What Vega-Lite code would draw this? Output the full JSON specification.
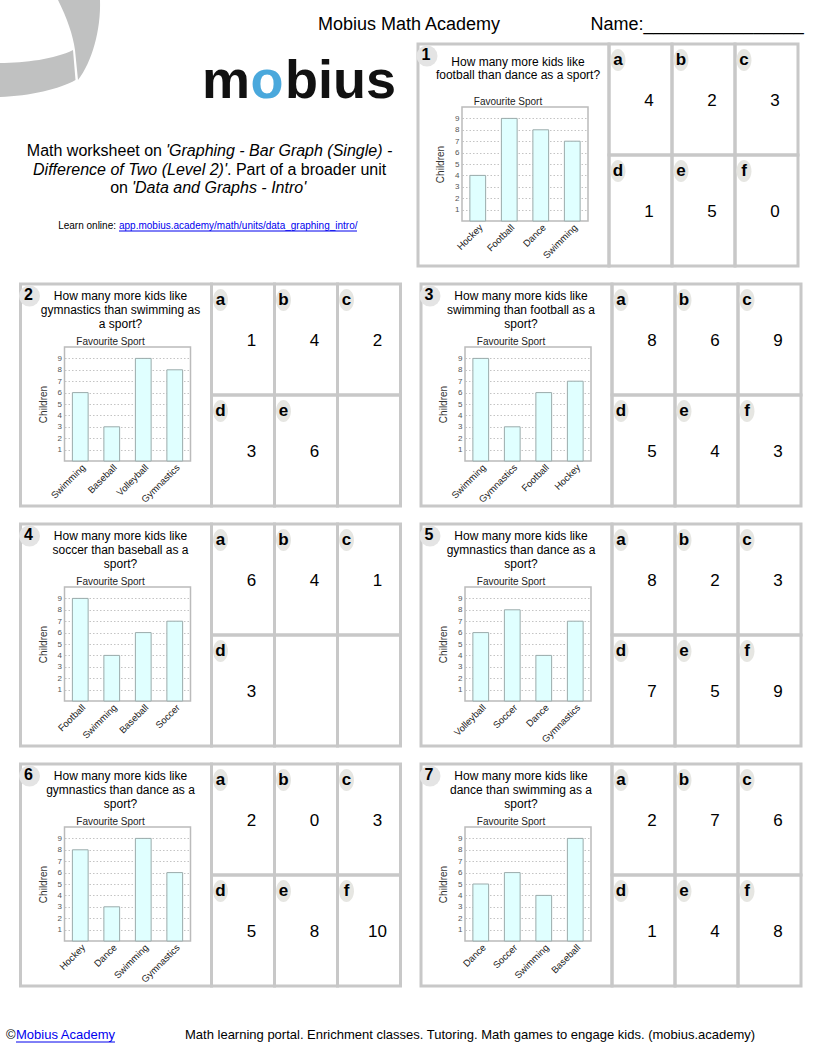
{
"$schema":"https://vega.github.io/schema/vega-lite/v6.json",
"padding":0,
"bounds":"full",
"spacing":14,
"config":{"font":"Liberation Sans","view":{"stroke":"#c8c8c8","strokeWidth":3},"axis":{"labelFont":"Liberation Sans","titleFont":"Liberation Sans"},"header":{"labels":false,"title":null}},
"datasets":{
"questions":[
{"p":1,"q":"How many more kids like\nfootball than dance as a sport?"},
{"p":2,"q":"How many more kids like\ngymnastics than swimming as\na sport?"},
{"p":3,"q":"How many more kids like\nswimming than football as a\nsport?"},
{"p":4,"q":"How many more kids like\nsoccer than baseball as a\nsport?"},
{"p":5,"q":"How many more kids like\ngymnastics than dance as a\nsport?"},
{"p":6,"q":"How many more kids like\ngymnastics than dance as a\nsport?"},
{"p":7,"q":"How many more kids like\ndance than swimming as a\nsport?"}
],
"bars":[
{"p":1,"sport":"Hockey","children":4},{"p":1,"sport":"Football","children":9},{"p":1,"sport":"Dance","children":8},{"p":1,"sport":"Swimming","children":7},
{"p":2,"sport":"Swimming","children":6},{"p":2,"sport":"Baseball","children":3},{"p":2,"sport":"Volleyball","children":9},{"p":2,"sport":"Gymnastics","children":8},
{"p":3,"sport":"Swimming","children":9},{"p":3,"sport":"Gymnastics","children":3},{"p":3,"sport":"Football","children":6},{"p":3,"sport":"Hockey","children":7},
{"p":4,"sport":"Football","children":9},{"p":4,"sport":"Swimming","children":4},{"p":4,"sport":"Baseball","children":6},{"p":4,"sport":"Soccer","children":7},
{"p":5,"sport":"Volleyball","children":6},{"p":5,"sport":"Soccer","children":8},{"p":5,"sport":"Dance","children":4},{"p":5,"sport":"Gymnastics","children":7},
{"p":6,"sport":"Hockey","children":8},{"p":6,"sport":"Dance","children":3},{"p":6,"sport":"Swimming","children":9},{"p":6,"sport":"Gymnastics","children":6},
{"p":7,"sport":"Dance","children":5},{"p":7,"sport":"Soccer","children":6},{"p":7,"sport":"Swimming","children":4},{"p":7,"sport":"Baseball","children":9}
],
"answers":[
{"p":1,"slot":"a","letter":"a","ans":"4"},{"p":1,"slot":"b","letter":"b","ans":"2"},{"p":1,"slot":"c","letter":"c","ans":"3"},{"p":1,"slot":"d","letter":"d","ans":"1"},{"p":1,"slot":"e","letter":"e","ans":"5"},{"p":1,"slot":"f","letter":"f","ans":"0"},
{"p":2,"slot":"a","letter":"a","ans":"1"},{"p":2,"slot":"b","letter":"b","ans":"4"},{"p":2,"slot":"c","letter":"c","ans":"2"},{"p":2,"slot":"d","letter":"d","ans":"3"},{"p":2,"slot":"e","letter":"e","ans":"6"},{"p":2,"slot":"f","letter":"","ans":""},
{"p":3,"slot":"a","letter":"a","ans":"8"},{"p":3,"slot":"b","letter":"b","ans":"6"},{"p":3,"slot":"c","letter":"c","ans":"9"},{"p":3,"slot":"d","letter":"d","ans":"5"},{"p":3,"slot":"e","letter":"e","ans":"4"},{"p":3,"slot":"f","letter":"f","ans":"3"},
{"p":4,"slot":"a","letter":"a","ans":"6"},{"p":4,"slot":"b","letter":"b","ans":"4"},{"p":4,"slot":"c","letter":"c","ans":"1"},{"p":4,"slot":"d","letter":"d","ans":"3"},{"p":4,"slot":"e","letter":"","ans":""},{"p":4,"slot":"f","letter":"","ans":""},
{"p":5,"slot":"a","letter":"a","ans":"8"},{"p":5,"slot":"b","letter":"b","ans":"2"},{"p":5,"slot":"c","letter":"c","ans":"3"},{"p":5,"slot":"d","letter":"d","ans":"7"},{"p":5,"slot":"e","letter":"e","ans":"5"},{"p":5,"slot":"f","letter":"f","ans":"9"},
{"p":6,"slot":"a","letter":"a","ans":"2"},{"p":6,"slot":"b","letter":"b","ans":"0"},{"p":6,"slot":"c","letter":"c","ans":"3"},{"p":6,"slot":"d","letter":"d","ans":"5"},{"p":6,"slot":"e","letter":"e","ans":"8"},{"p":6,"slot":"f","letter":"f","ans":"10"},
{"p":7,"slot":"a","letter":"a","ans":"2"},{"p":7,"slot":"b","letter":"b","ans":"7"},{"p":7,"slot":"c","letter":"c","ans":"6"},{"p":7,"slot":"d","letter":"d","ans":"1"},{"p":7,"slot":"e","letter":"e","ans":"4"},{"p":7,"slot":"f","letter":"f","ans":"8"}
]
},
"vconcat":[
{"hconcat":[
 {"width":400.5,"height":266,"view":{"stroke":null},"data":{"values":[{}]},
  "layer":[
   {"mark":{"type":"point","shape":"M0.16,-1 L1,-1 C1.02,-0.4 0.84,0.24 0.56,0.6 L0.5,0 C0.46,-0.3 0.34,-0.64 0.16,-1 Z M-1,0.26 C-0.5,0.26 0.1,0.18 0.46,0 L0.51,0.6 C0.2,0.78 -0.4,0.92 -1,0.94 Z","filled":true,"color":"#c0c1c1","opacity":1,"size":10000,"strokeWidth":0},
    "encoding":{"x":{"datum":50,"type":"quantitative","scale":{"domain":[0,399],"range":[0,399],"nice":false,"zero":false},"axis":null},"y":{"datum":50,"type":"quantitative","scale":{"domain":[0,266],"range":[0,266],"nice":false,"zero":false},"axis":null}}},
   {"mark":{"type":"text","text":"Mobius Math Academy","fontSize":18,"align":"center","baseline":"middle","color":"#000000"},
    "encoding":{"x":{"datum":409,"type":"quantitative","scale":{"domain":[0,399],"range":[0,399],"nice":false,"zero":false},"axis":null},"y":{"datum":25,"type":"quantitative","scale":{"domain":[0,266],"range":[0,266],"nice":false,"zero":false},"axis":null}}},
   {"mark":{"type":"text","text":"m","fontSize":54,"fontWeight":"bold","align":"right","baseline":"alphabetic","color":"#111111"},
    "encoding":{"x":{"datum":250,"type":"quantitative","scale":{"domain":[0,399],"range":[0,399],"nice":false,"zero":false},"axis":null},"y":{"datum":98,"type":"quantitative","scale":{"domain":[0,266],"range":[0,266],"nice":false,"zero":false},"axis":null}}},
   {"mark":{"type":"text","text":"o","fontSize":54,"fontWeight":"bold","align":"center","baseline":"alphabetic","color":"#4aa8dc"},
    "encoding":{"x":{"datum":267,"type":"quantitative","scale":{"domain":[0,399],"range":[0,399],"nice":false,"zero":false},"axis":null},"y":{"datum":98,"type":"quantitative","scale":{"domain":[0,266],"range":[0,266],"nice":false,"zero":false},"axis":null}}},
   {"mark":{"type":"text","text":"bius","fontSize":54,"fontWeight":"bold","align":"left","baseline":"alphabetic","color":"#111111"},
    "encoding":{"x":{"datum":285,"type":"quantitative","scale":{"domain":[0,399],"range":[0,399],"nice":false,"zero":false},"axis":null},"y":{"datum":98,"type":"quantitative","scale":{"domain":[0,266],"range":[0,266],"nice":false,"zero":false},"axis":null}}},
   {"mark":{"type":"text","text":"Math worksheet on","fontSize":16,"align":"right","baseline":"middle","color":"#000000"},
    "encoding":{"x":{"datum":162,"type":"quantitative","scale":{"domain":[0,399],"range":[0,399],"nice":false,"zero":false},"axis":null},"y":{"datum":151,"type":"quantitative","scale":{"domain":[0,266],"range":[0,266],"nice":false,"zero":false},"axis":null}}},
   {"mark":{"type":"text","text":"'Graphing - Bar Graph (Single) -","fontSize":16,"fontStyle":"italic","align":"left","baseline":"middle","color":"#000000"},
    "encoding":{"x":{"datum":166,"type":"quantitative","scale":{"domain":[0,399],"range":[0,399],"nice":false,"zero":false},"axis":null},"y":{"datum":151,"type":"quantitative","scale":{"domain":[0,266],"range":[0,266],"nice":false,"zero":false},"axis":null}}},
   {"mark":{"type":"text","text":"Difference of Two (Level 2)'","fontSize":16,"fontStyle":"italic","align":"right","baseline":"middle","color":"#000000"},
    "encoding":{"x":{"datum":227,"type":"quantitative","scale":{"domain":[0,399],"range":[0,399],"nice":false,"zero":false},"axis":null},"y":{"datum":170,"type":"quantitative","scale":{"domain":[0,266],"range":[0,266],"nice":false,"zero":false},"axis":null}}},
   {"mark":{"type":"text","text":". Part of a broader unit","fontSize":16,"align":"left","baseline":"middle","color":"#000000"},
    "encoding":{"x":{"datum":227,"type":"quantitative","scale":{"domain":[0,399],"range":[0,399],"nice":false,"zero":false},"axis":null},"y":{"datum":170,"type":"quantitative","scale":{"domain":[0,266],"range":[0,266],"nice":false,"zero":false},"axis":null}}},
   {"mark":{"type":"text","text":"on","fontSize":16,"align":"right","baseline":"middle","color":"#000000"},
    "encoding":{"x":{"datum":128,"type":"quantitative","scale":{"domain":[0,399],"range":[0,399],"nice":false,"zero":false},"axis":null},"y":{"datum":188,"type":"quantitative","scale":{"domain":[0,266],"range":[0,266],"nice":false,"zero":false},"axis":null}}},
   {"mark":{"type":"text","text":"'Data and Graphs - Intro'","fontSize":16,"fontStyle":"italic","align":"left","baseline":"middle","color":"#000000"},
    "encoding":{"x":{"datum":132,"type":"quantitative","scale":{"domain":[0,399],"range":[0,399],"nice":false,"zero":false},"axis":null},"y":{"datum":188,"type":"quantitative","scale":{"domain":[0,266],"range":[0,266],"nice":false,"zero":false},"axis":null}}},
   {"mark":{"type":"text","text":"Learn online:","fontSize":10,"align":"right","baseline":"middle","color":"#000000"},
    "encoding":{"x":{"datum":116,"type":"quantitative","scale":{"domain":[0,399],"range":[0,399],"nice":false,"zero":false},"axis":null},"y":{"datum":226,"type":"quantitative","scale":{"domain":[0,266],"range":[0,266],"nice":false,"zero":false},"axis":null}}},
   {"mark":{"type":"text","text":"app.mobius.academy/math/units/data_graphing_intro/","fontSize":10,"align":"left","baseline":"middle","color":"#0000ee"},
    "encoding":{"x":{"datum":119,"type":"quantitative","scale":{"domain":[0,399],"range":[0,399],"nice":false,"zero":false},"axis":null},"y":{"datum":226,"type":"quantitative","scale":{"domain":[0,266],"range":[0,266],"nice":false,"zero":false},"axis":null}}},
   {"mark":{"type":"rule","color":"#0000ee","strokeWidth":1},
    "encoding":{"x":{"datum":119,"type":"quantitative","scale":{"domain":[0,399],"range":[0,399],"nice":false,"zero":false},"axis":null},"x2":{"datum":357},"y":{"datum":231,"type":"quantitative","scale":{"domain":[0,266],"range":[0,266],"nice":false,"zero":false},"axis":null}}}
  ]},
 {"vconcat":[
  {"width":380,"height":44,"view":{"stroke":null},"data":{"values":[{}]},
   "mark":{"type":"text","text":"Name:________________","fontSize":18,"align":"left","baseline":"middle","color":"#000000"},
   "encoding":{"x":{"datum":172.5,"type":"quantitative","scale":{"domain":[0,380],"range":[0,380],"nice":false,"zero":false},"axis":null},"y":{"datum":25,"type":"quantitative","scale":{"domain":[0,44],"range":[0,44],"nice":false,"zero":false},"axis":null}}},
  {"hconcat":[
   {"width":191,"height":222,"resolve":{"scale":{"x":"independent","y":"independent"}},"layer":[
    {"data":{"name":"questions"},"transform":[{"filter":"datum.p == 1"}],"layer":[
     {"mark":{"type":"rect","filled":false,"stroke":"#bbbbbb","strokeWidth":1.5},"encoding":{"x":{"datum":44,"type":"quantitative","scale":{"domain":[0,191],"range":[0,191],"nice":false,"zero":false},"axis":null},"x2":{"datum":170},"y":{"datum":63,"type":"quantitative","scale":{"domain":[0,222],"range":[0,222],"nice":false,"zero":false},"axis":null},"y2":{"datum":177}}},
     {"mark":{"type":"point","filled":true,"color":"#e4e4e4","opacity":1,"size":441,"strokeWidth":0},"encoding":{"x":{"datum":9,"type":"quantitative","scale":{"domain":[0,191],"range":[0,191],"nice":false,"zero":false},"axis":null},"y":{"datum":12,"type":"quantitative","scale":{"domain":[0,222],"range":[0,222],"nice":false,"zero":false},"axis":null}}},
     {"mark":{"type":"text","fontSize":16,"fontWeight":"bold","align":"center","baseline":"middle","color":"#000000"},"encoding":{"x":{"datum":8,"type":"quantitative","scale":{"domain":[0,191],"range":[0,191],"nice":false,"zero":false},"axis":null},"y":{"datum":11,"type":"quantitative","scale":{"domain":[0,222],"range":[0,222],"nice":false,"zero":false},"axis":null},"text":{"field":"p","type":"nominal"}}},
     {"mark":{"type":"text","fontSize":12,"align":"center","baseline":"top","lineBreak":"\n","lineHeight":13,"color":"#000000"},"encoding":{"x":{"datum":100,"type":"quantitative","scale":{"domain":[0,191],"range":[0,191],"nice":false,"zero":false},"axis":null},"y":{"datum":13,"type":"quantitative","scale":{"domain":[0,222],"range":[0,222],"nice":false,"zero":false},"axis":null},"text":{"field":"q","type":"nominal"}}},
     {"mark":{"type":"text","text":"Favourite Sport","fontSize":10,"align":"center","baseline":"middle","color":"#222222"},"encoding":{"x":{"datum":90,"type":"quantitative","scale":{"domain":[0,191],"range":[0,191],"nice":false,"zero":false},"axis":null},"y":{"datum":58,"type":"quantitative","scale":{"domain":[0,222],"range":[0,222],"nice":false,"zero":false},"axis":null}}}
    ]},
    {"data":{"name":"bars"},"transform":[{"filter":"datum.p == 1"}],"mark":{"type":"bar","fill":"#e0ffff","stroke":"#9aabab","strokeWidth":1},
     "encoding":{"x":{"field":"sport","type":"nominal","sort":null,"scale":{"range":[44,170],"paddingInner":0.5,"paddingOuter":0.25},"axis":{"orient":"bottom","offset":-45,"title":null,"labelAngle":-45,"labelAlign":"right","labelBaseline":"top","labelFontSize":9.5,"labelColor":"#222222","labelPadding":1,"ticks":false,"domain":false,"grid":false,"labelOverlap":false}},
      "y":{"field":"children","type":"quantitative","scale":{"domain":[0,10],"range":[177,63],"nice":false},"axis":{"orient":"left","offset":-44,"values":[1,2,3,4,5,6,7,8,9],"title":"Children","titleFontSize":10,"titleFontWeight":"normal","titleColor":"#333333","titlePadding":9,"labelFontSize":8,"labelColor":"#555555","labelPadding":3,"ticks":false,"domain":false,"grid":true,"gridColor":"#c4c4c4","gridDash":[1.5,2],"gridWidth":1}}}}
   ]},
   {"data":{"name":"answers"},"transform":[{"filter":"datum.p == 1"}],"columns":3,"spacing":0,"bounds":"flush",
    "facet":{"field":"slot","type":"nominal","header":{"title":null,"labelExpr":"''","labelFontSize":0,"labelPadding":-40}},
    "spec":{"width":63,"height":111,"layer":[
     {"transform":[{"filter":"datum.letter != ''"}],"mark":{"type":"point","shape":"M0,-1 A0.68,1 0 1,1 0,1 A0.68,1 0 1,1 0,-1 Z","filled":true,"color":"#e6e6e2","opacity":1,"size":484,"strokeWidth":0},"encoding":{"x":{"datum":9,"type":"quantitative","scale":{"domain":[0,63],"range":[0,63],"nice":false,"zero":false},"axis":null},"y":{"datum":16,"type":"quantitative","scale":{"domain":[0,111],"range":[0,111],"nice":false,"zero":false},"axis":null}}},
     {"mark":{"type":"text","fontSize":17,"fontWeight":"bold","align":"center","baseline":"middle","color":"#000000"},"encoding":{"x":{"datum":9,"type":"quantitative","scale":{"domain":[0,63],"range":[0,63],"nice":false,"zero":false},"axis":null},"y":{"datum":16,"type":"quantitative","scale":{"domain":[0,111],"range":[0,111],"nice":false,"zero":false},"axis":null},"text":{"field":"letter","type":"nominal"}}},
     {"mark":{"type":"text","fontSize":17,"align":"center","baseline":"middle","color":"#000000"},"encoding":{"x":{"datum":40,"type":"quantitative","scale":{"domain":[0,63],"range":[0,63],"nice":false,"zero":false},"axis":null},"y":{"datum":57,"type":"quantitative","scale":{"domain":[0,111],"range":[0,111],"nice":false,"zero":false},"axis":null},"text":{"field":"ans","type":"nominal"}}}
    ]}}
  ],"spacing":0,"bounds":"flush"}
 ],"spacing":0,"bounds":"flush"}
],"spacing":17,"bounds":"flush"},
{"hconcat":[
 {"width":2,"height":222,"view":{"stroke":null},"data":{"values":[{}]},"mark":{"type":"text","text":""}},
 {"hconcat":[
   {"width":191,"height":222,"resolve":{"scale":{"x":"independent","y":"independent"}},"layer":[
    {"data":{"name":"questions"},"transform":[{"filter":"datum.p == 2"}],"layer":[
     {"mark":{"type":"rect","filled":false,"stroke":"#bbbbbb","strokeWidth":1.5},"encoding":{"x":{"datum":44,"type":"quantitative","scale":{"domain":[0,191],"range":[0,191],"nice":false,"zero":false},"axis":null},"x2":{"datum":170},"y":{"datum":63,"type":"quantitative","scale":{"domain":[0,222],"range":[0,222],"nice":false,"zero":false},"axis":null},"y2":{"datum":177}}},
     {"mark":{"type":"point","filled":true,"color":"#e4e4e4","opacity":1,"size":441,"strokeWidth":0},"encoding":{"x":{"datum":9,"type":"quantitative","scale":{"domain":[0,191],"range":[0,191],"nice":false,"zero":false},"axis":null},"y":{"datum":12,"type":"quantitative","scale":{"domain":[0,222],"range":[0,222],"nice":false,"zero":false},"axis":null}}},
     {"mark":{"type":"text","fontSize":16,"fontWeight":"bold","align":"center","baseline":"middle","color":"#000000"},"encoding":{"x":{"datum":8,"type":"quantitative","scale":{"domain":[0,191],"range":[0,191],"nice":false,"zero":false},"axis":null},"y":{"datum":11,"type":"quantitative","scale":{"domain":[0,222],"range":[0,222],"nice":false,"zero":false},"axis":null},"text":{"field":"p","type":"nominal"}}},
     {"mark":{"type":"text","fontSize":12,"align":"center","baseline":"top","lineBreak":"\n","lineHeight":14,"color":"#000000"},"encoding":{"x":{"datum":100,"type":"quantitative","scale":{"domain":[0,191],"range":[0,191],"nice":false,"zero":false},"axis":null},"y":{"datum":7,"type":"quantitative","scale":{"domain":[0,222],"range":[0,222],"nice":false,"zero":false},"axis":null},"text":{"field":"q","type":"nominal"}}},
     {"mark":{"type":"text","text":"Favourite Sport","fontSize":10,"align":"center","baseline":"middle","color":"#222222"},"encoding":{"x":{"datum":90,"type":"quantitative","scale":{"domain":[0,191],"range":[0,191],"nice":false,"zero":false},"axis":null},"y":{"datum":58,"type":"quantitative","scale":{"domain":[0,222],"range":[0,222],"nice":false,"zero":false},"axis":null}}}
    ]},
    {"data":{"name":"bars"},"transform":[{"filter":"datum.p == 2"}],"mark":{"type":"bar","fill":"#e0ffff","stroke":"#9aabab","strokeWidth":1},
     "encoding":{"x":{"field":"sport","type":"nominal","sort":null,"scale":{"range":[44,170],"paddingInner":0.5,"paddingOuter":0.25},"axis":{"orient":"bottom","offset":-45,"title":null,"labelAngle":-45,"labelAlign":"right","labelBaseline":"top","labelFontSize":9.5,"labelColor":"#222222","labelPadding":1,"ticks":false,"domain":false,"grid":false,"labelOverlap":false}},
      "y":{"field":"children","type":"quantitative","scale":{"domain":[0,10],"range":[177,63],"nice":false},"axis":{"orient":"left","offset":-44,"values":[1,2,3,4,5,6,7,8,9],"title":"Children","titleFontSize":10,"titleFontWeight":"normal","titleColor":"#333333","titlePadding":9,"labelFontSize":8,"labelColor":"#555555","labelPadding":3,"ticks":false,"domain":false,"grid":true,"gridColor":"#c4c4c4","gridDash":[1.5,2],"gridWidth":1}}}}
   ]},
   {"data":{"name":"answers"},"transform":[{"filter":"datum.p == 2"}],"columns":3,"spacing":0,"bounds":"flush",
    "facet":{"field":"slot","type":"nominal","header":{"title":null,"labelExpr":"''","labelFontSize":0,"labelPadding":-40}},
    "spec":{"width":63,"height":111,"layer":[
     {"transform":[{"filter":"datum.letter != ''"}],"mark":{"type":"point","shape":"M0,-1 A0.68,1 0 1,1 0,1 A0.68,1 0 1,1 0,-1 Z","filled":true,"color":"#e6e6e2","opacity":1,"size":484,"strokeWidth":0},"encoding":{"x":{"datum":9,"type":"quantitative","scale":{"domain":[0,63],"range":[0,63],"nice":false,"zero":false},"axis":null},"y":{"datum":16,"type":"quantitative","scale":{"domain":[0,111],"range":[0,111],"nice":false,"zero":false},"axis":null}}},
     {"mark":{"type":"text","fontSize":17,"fontWeight":"bold","align":"center","baseline":"middle","color":"#000000"},"encoding":{"x":{"datum":9,"type":"quantitative","scale":{"domain":[0,63],"range":[0,63],"nice":false,"zero":false},"axis":null},"y":{"datum":16,"type":"quantitative","scale":{"domain":[0,111],"range":[0,111],"nice":false,"zero":false},"axis":null},"text":{"field":"letter","type":"nominal"}}},
     {"mark":{"type":"text","fontSize":17,"align":"center","baseline":"middle","color":"#000000"},"encoding":{"x":{"datum":40,"type":"quantitative","scale":{"domain":[0,63],"range":[0,63],"nice":false,"zero":false},"axis":null},"y":{"datum":57,"type":"quantitative","scale":{"domain":[0,111],"range":[0,111],"nice":false,"zero":false},"axis":null},"text":{"field":"ans","type":"nominal"}}}
    ]}}
 ],"spacing":0,"bounds":"flush"},
 {"hconcat":[
   {"width":191,"height":222,"resolve":{"scale":{"x":"independent","y":"independent"}},"layer":[
    {"data":{"name":"questions"},"transform":[{"filter":"datum.p == 3"}],"layer":[
     {"mark":{"type":"rect","filled":false,"stroke":"#bbbbbb","strokeWidth":1.5},"encoding":{"x":{"datum":44,"type":"quantitative","scale":{"domain":[0,191],"range":[0,191],"nice":false,"zero":false},"axis":null},"x2":{"datum":170},"y":{"datum":63,"type":"quantitative","scale":{"domain":[0,222],"range":[0,222],"nice":false,"zero":false},"axis":null},"y2":{"datum":177}}},
     {"mark":{"type":"point","filled":true,"color":"#e4e4e4","opacity":1,"size":441,"strokeWidth":0},"encoding":{"x":{"datum":9,"type":"quantitative","scale":{"domain":[0,191],"range":[0,191],"nice":false,"zero":false},"axis":null},"y":{"datum":12,"type":"quantitative","scale":{"domain":[0,222],"range":[0,222],"nice":false,"zero":false},"axis":null}}},
     {"mark":{"type":"text","fontSize":16,"fontWeight":"bold","align":"center","baseline":"middle","color":"#000000"},"encoding":{"x":{"datum":8,"type":"quantitative","scale":{"domain":[0,191],"range":[0,191],"nice":false,"zero":false},"axis":null},"y":{"datum":11,"type":"quantitative","scale":{"domain":[0,222],"range":[0,222],"nice":false,"zero":false},"axis":null},"text":{"field":"p","type":"nominal"}}},
     {"mark":{"type":"text","fontSize":12,"align":"center","baseline":"top","lineBreak":"\n","lineHeight":14,"color":"#000000"},"encoding":{"x":{"datum":100,"type":"quantitative","scale":{"domain":[0,191],"range":[0,191],"nice":false,"zero":false},"axis":null},"y":{"datum":7,"type":"quantitative","scale":{"domain":[0,222],"range":[0,222],"nice":false,"zero":false},"axis":null},"text":{"field":"q","type":"nominal"}}},
     {"mark":{"type":"text","text":"Favourite Sport","fontSize":10,"align":"center","baseline":"middle","color":"#222222"},"encoding":{"x":{"datum":90,"type":"quantitative","scale":{"domain":[0,191],"range":[0,191],"nice":false,"zero":false},"axis":null},"y":{"datum":58,"type":"quantitative","scale":{"domain":[0,222],"range":[0,222],"nice":false,"zero":false},"axis":null}}}
    ]},
    {"data":{"name":"bars"},"transform":[{"filter":"datum.p == 3"}],"mark":{"type":"bar","fill":"#e0ffff","stroke":"#9aabab","strokeWidth":1},
     "encoding":{"x":{"field":"sport","type":"nominal","sort":null,"scale":{"range":[44,170],"paddingInner":0.5,"paddingOuter":0.25},"axis":{"orient":"bottom","offset":-45,"title":null,"labelAngle":-45,"labelAlign":"right","labelBaseline":"top","labelFontSize":9.5,"labelColor":"#222222","labelPadding":1,"ticks":false,"domain":false,"grid":false,"labelOverlap":false}},
      "y":{"field":"children","type":"quantitative","scale":{"domain":[0,10],"range":[177,63],"nice":false},"axis":{"orient":"left","offset":-44,"values":[1,2,3,4,5,6,7,8,9],"title":"Children","titleFontSize":10,"titleFontWeight":"normal","titleColor":"#333333","titlePadding":9,"labelFontSize":8,"labelColor":"#555555","labelPadding":3,"ticks":false,"domain":false,"grid":true,"gridColor":"#c4c4c4","gridDash":[1.5,2],"gridWidth":1}}}}
   ]},
   {"data":{"name":"answers"},"transform":[{"filter":"datum.p == 3"}],"columns":3,"spacing":0,"bounds":"flush",
    "facet":{"field":"slot","type":"nominal","header":{"title":null,"labelExpr":"''","labelFontSize":0,"labelPadding":-40}},
    "spec":{"width":63,"height":111,"layer":[
     {"transform":[{"filter":"datum.letter != ''"}],"mark":{"type":"point","shape":"M0,-1 A0.68,1 0 1,1 0,1 A0.68,1 0 1,1 0,-1 Z","filled":true,"color":"#e6e6e2","opacity":1,"size":484,"strokeWidth":0},"encoding":{"x":{"datum":9,"type":"quantitative","scale":{"domain":[0,63],"range":[0,63],"nice":false,"zero":false},"axis":null},"y":{"datum":16,"type":"quantitative","scale":{"domain":[0,111],"range":[0,111],"nice":false,"zero":false},"axis":null}}},
     {"mark":{"type":"text","fontSize":17,"fontWeight":"bold","align":"center","baseline":"middle","color":"#000000"},"encoding":{"x":{"datum":9,"type":"quantitative","scale":{"domain":[0,63],"range":[0,63],"nice":false,"zero":false},"axis":null},"y":{"datum":16,"type":"quantitative","scale":{"domain":[0,111],"range":[0,111],"nice":false,"zero":false},"axis":null},"text":{"field":"letter","type":"nominal"}}},
     {"mark":{"type":"text","fontSize":17,"align":"center","baseline":"middle","color":"#000000"},"encoding":{"x":{"datum":40,"type":"quantitative","scale":{"domain":[0,63],"range":[0,63],"nice":false,"zero":false},"axis":null},"y":{"datum":57,"type":"quantitative","scale":{"domain":[0,111],"range":[0,111],"nice":false,"zero":false},"axis":null},"text":{"field":"ans","type":"nominal"}}}
    ]}}
 ],"spacing":0,"bounds":"flush"}
],"spacing":15.5,"bounds":"full"},
{"hconcat":[
 {"width":2,"height":222,"view":{"stroke":null},"data":{"values":[{}]},"mark":{"type":"text","text":""}},
 {"hconcat":[
   {"width":191,"height":222,"resolve":{"scale":{"x":"independent","y":"independent"}},"layer":[
    {"data":{"name":"questions"},"transform":[{"filter":"datum.p == 4"}],"layer":[
     {"mark":{"type":"rect","filled":false,"stroke":"#bbbbbb","strokeWidth":1.5},"encoding":{"x":{"datum":44,"type":"quantitative","scale":{"domain":[0,191],"range":[0,191],"nice":false,"zero":false},"axis":null},"x2":{"datum":170},"y":{"datum":63,"type":"quantitative","scale":{"domain":[0,222],"range":[0,222],"nice":false,"zero":false},"axis":null},"y2":{"datum":177}}},
     {"mark":{"type":"point","filled":true,"color":"#e4e4e4","opacity":1,"size":441,"strokeWidth":0},"encoding":{"x":{"datum":9,"type":"quantitative","scale":{"domain":[0,191],"range":[0,191],"nice":false,"zero":false},"axis":null},"y":{"datum":12,"type":"quantitative","scale":{"domain":[0,222],"range":[0,222],"nice":false,"zero":false},"axis":null}}},
     {"mark":{"type":"text","fontSize":16,"fontWeight":"bold","align":"center","baseline":"middle","color":"#000000"},"encoding":{"x":{"datum":8,"type":"quantitative","scale":{"domain":[0,191],"range":[0,191],"nice":false,"zero":false},"axis":null},"y":{"datum":11,"type":"quantitative","scale":{"domain":[0,222],"range":[0,222],"nice":false,"zero":false},"axis":null},"text":{"field":"p","type":"nominal"}}},
     {"mark":{"type":"text","fontSize":12,"align":"center","baseline":"top","lineBreak":"\n","lineHeight":14,"color":"#000000"},"encoding":{"x":{"datum":100,"type":"quantitative","scale":{"domain":[0,191],"range":[0,191],"nice":false,"zero":false},"axis":null},"y":{"datum":7,"type":"quantitative","scale":{"domain":[0,222],"range":[0,222],"nice":false,"zero":false},"axis":null},"text":{"field":"q","type":"nominal"}}},
     {"mark":{"type":"text","text":"Favourite Sport","fontSize":10,"align":"center","baseline":"middle","color":"#222222"},"encoding":{"x":{"datum":90,"type":"quantitative","scale":{"domain":[0,191],"range":[0,191],"nice":false,"zero":false},"axis":null},"y":{"datum":58,"type":"quantitative","scale":{"domain":[0,222],"range":[0,222],"nice":false,"zero":false},"axis":null}}}
    ]},
    {"data":{"name":"bars"},"transform":[{"filter":"datum.p == 4"}],"mark":{"type":"bar","fill":"#e0ffff","stroke":"#9aabab","strokeWidth":1},
     "encoding":{"x":{"field":"sport","type":"nominal","sort":null,"scale":{"range":[44,170],"paddingInner":0.5,"paddingOuter":0.25},"axis":{"orient":"bottom","offset":-45,"title":null,"labelAngle":-45,"labelAlign":"right","labelBaseline":"top","labelFontSize":9.5,"labelColor":"#222222","labelPadding":1,"ticks":false,"domain":false,"grid":false,"labelOverlap":false}},
      "y":{"field":"children","type":"quantitative","scale":{"domain":[0,10],"range":[177,63],"nice":false},"axis":{"orient":"left","offset":-44,"values":[1,2,3,4,5,6,7,8,9],"title":"Children","titleFontSize":10,"titleFontWeight":"normal","titleColor":"#333333","titlePadding":9,"labelFontSize":8,"labelColor":"#555555","labelPadding":3,"ticks":false,"domain":false,"grid":true,"gridColor":"#c4c4c4","gridDash":[1.5,2],"gridWidth":1}}}}
   ]},
   {"data":{"name":"answers"},"transform":[{"filter":"datum.p == 4"}],"columns":3,"spacing":0,"bounds":"flush",
    "facet":{"field":"slot","type":"nominal","header":{"title":null,"labelExpr":"''","labelFontSize":0,"labelPadding":-40}},
    "spec":{"width":63,"height":111,"layer":[
     {"transform":[{"filter":"datum.letter != ''"}],"mark":{"type":"point","shape":"M0,-1 A0.68,1 0 1,1 0,1 A0.68,1 0 1,1 0,-1 Z","filled":true,"color":"#e6e6e2","opacity":1,"size":484,"strokeWidth":0},"encoding":{"x":{"datum":9,"type":"quantitative","scale":{"domain":[0,63],"range":[0,63],"nice":false,"zero":false},"axis":null},"y":{"datum":16,"type":"quantitative","scale":{"domain":[0,111],"range":[0,111],"nice":false,"zero":false},"axis":null}}},
     {"mark":{"type":"text","fontSize":17,"fontWeight":"bold","align":"center","baseline":"middle","color":"#000000"},"encoding":{"x":{"datum":9,"type":"quantitative","scale":{"domain":[0,63],"range":[0,63],"nice":false,"zero":false},"axis":null},"y":{"datum":16,"type":"quantitative","scale":{"domain":[0,111],"range":[0,111],"nice":false,"zero":false},"axis":null},"text":{"field":"letter","type":"nominal"}}},
     {"mark":{"type":"text","fontSize":17,"align":"center","baseline":"middle","color":"#000000"},"encoding":{"x":{"datum":40,"type":"quantitative","scale":{"domain":[0,63],"range":[0,63],"nice":false,"zero":false},"axis":null},"y":{"datum":57,"type":"quantitative","scale":{"domain":[0,111],"range":[0,111],"nice":false,"zero":false},"axis":null},"text":{"field":"ans","type":"nominal"}}}
    ]}}
 ],"spacing":0,"bounds":"flush"},
 {"hconcat":[
   {"width":191,"height":222,"resolve":{"scale":{"x":"independent","y":"independent"}},"layer":[
    {"data":{"name":"questions"},"transform":[{"filter":"datum.p == 5"}],"layer":[
     {"mark":{"type":"rect","filled":false,"stroke":"#bbbbbb","strokeWidth":1.5},"encoding":{"x":{"datum":44,"type":"quantitative","scale":{"domain":[0,191],"range":[0,191],"nice":false,"zero":false},"axis":null},"x2":{"datum":170},"y":{"datum":63,"type":"quantitative","scale":{"domain":[0,222],"range":[0,222],"nice":false,"zero":false},"axis":null},"y2":{"datum":177}}},
     {"mark":{"type":"point","filled":true,"color":"#e4e4e4","opacity":1,"size":441,"strokeWidth":0},"encoding":{"x":{"datum":9,"type":"quantitative","scale":{"domain":[0,191],"range":[0,191],"nice":false,"zero":false},"axis":null},"y":{"datum":12,"type":"quantitative","scale":{"domain":[0,222],"range":[0,222],"nice":false,"zero":false},"axis":null}}},
     {"mark":{"type":"text","fontSize":16,"fontWeight":"bold","align":"center","baseline":"middle","color":"#000000"},"encoding":{"x":{"datum":8,"type":"quantitative","scale":{"domain":[0,191],"range":[0,191],"nice":false,"zero":false},"axis":null},"y":{"datum":11,"type":"quantitative","scale":{"domain":[0,222],"range":[0,222],"nice":false,"zero":false},"axis":null},"text":{"field":"p","type":"nominal"}}},
     {"mark":{"type":"text","fontSize":12,"align":"center","baseline":"top","lineBreak":"\n","lineHeight":14,"color":"#000000"},"encoding":{"x":{"datum":100,"type":"quantitative","scale":{"domain":[0,191],"range":[0,191],"nice":false,"zero":false},"axis":null},"y":{"datum":7,"type":"quantitative","scale":{"domain":[0,222],"range":[0,222],"nice":false,"zero":false},"axis":null},"text":{"field":"q","type":"nominal"}}},
     {"mark":{"type":"text","text":"Favourite Sport","fontSize":10,"align":"center","baseline":"middle","color":"#222222"},"encoding":{"x":{"datum":90,"type":"quantitative","scale":{"domain":[0,191],"range":[0,191],"nice":false,"zero":false},"axis":null},"y":{"datum":58,"type":"quantitative","scale":{"domain":[0,222],"range":[0,222],"nice":false,"zero":false},"axis":null}}}
    ]},
    {"data":{"name":"bars"},"transform":[{"filter":"datum.p == 5"}],"mark":{"type":"bar","fill":"#e0ffff","stroke":"#9aabab","strokeWidth":1},
     "encoding":{"x":{"field":"sport","type":"nominal","sort":null,"scale":{"range":[44,170],"paddingInner":0.5,"paddingOuter":0.25},"axis":{"orient":"bottom","offset":-45,"title":null,"labelAngle":-45,"labelAlign":"right","labelBaseline":"top","labelFontSize":9.5,"labelColor":"#222222","labelPadding":1,"ticks":false,"domain":false,"grid":false,"labelOverlap":false}},
      "y":{"field":"children","type":"quantitative","scale":{"domain":[0,10],"range":[177,63],"nice":false},"axis":{"orient":"left","offset":-44,"values":[1,2,3,4,5,6,7,8,9],"title":"Children","titleFontSize":10,"titleFontWeight":"normal","titleColor":"#333333","titlePadding":9,"labelFontSize":8,"labelColor":"#555555","labelPadding":3,"ticks":false,"domain":false,"grid":true,"gridColor":"#c4c4c4","gridDash":[1.5,2],"gridWidth":1}}}}
   ]},
   {"data":{"name":"answers"},"transform":[{"filter":"datum.p == 5"}],"columns":3,"spacing":0,"bounds":"flush",
    "facet":{"field":"slot","type":"nominal","header":{"title":null,"labelExpr":"''","labelFontSize":0,"labelPadding":-40}},
    "spec":{"width":63,"height":111,"layer":[
     {"transform":[{"filter":"datum.letter != ''"}],"mark":{"type":"point","shape":"M0,-1 A0.68,1 0 1,1 0,1 A0.68,1 0 1,1 0,-1 Z","filled":true,"color":"#e6e6e2","opacity":1,"size":484,"strokeWidth":0},"encoding":{"x":{"datum":9,"type":"quantitative","scale":{"domain":[0,63],"range":[0,63],"nice":false,"zero":false},"axis":null},"y":{"datum":16,"type":"quantitative","scale":{"domain":[0,111],"range":[0,111],"nice":false,"zero":false},"axis":null}}},
     {"mark":{"type":"text","fontSize":17,"fontWeight":"bold","align":"center","baseline":"middle","color":"#000000"},"encoding":{"x":{"datum":9,"type":"quantitative","scale":{"domain":[0,63],"range":[0,63],"nice":false,"zero":false},"axis":null},"y":{"datum":16,"type":"quantitative","scale":{"domain":[0,111],"range":[0,111],"nice":false,"zero":false},"axis":null},"text":{"field":"letter","type":"nominal"}}},
     {"mark":{"type":"text","fontSize":17,"align":"center","baseline":"middle","color":"#000000"},"encoding":{"x":{"datum":40,"type":"quantitative","scale":{"domain":[0,63],"range":[0,63],"nice":false,"zero":false},"axis":null},"y":{"datum":57,"type":"quantitative","scale":{"domain":[0,111],"range":[0,111],"nice":false,"zero":false},"axis":null},"text":{"field":"ans","type":"nominal"}}}
    ]}}
 ],"spacing":0,"bounds":"flush"}
],"spacing":15.5,"bounds":"full"},
{"hconcat":[
 {"width":2,"height":222,"view":{"stroke":null},"data":{"values":[{}]},"mark":{"type":"text","text":""}},
 {"hconcat":[
   {"width":191,"height":222,"resolve":{"scale":{"x":"independent","y":"independent"}},"layer":[
    {"data":{"name":"questions"},"transform":[{"filter":"datum.p == 6"}],"layer":[
     {"mark":{"type":"rect","filled":false,"stroke":"#bbbbbb","strokeWidth":1.5},"encoding":{"x":{"datum":44,"type":"quantitative","scale":{"domain":[0,191],"range":[0,191],"nice":false,"zero":false},"axis":null},"x2":{"datum":170},"y":{"datum":63,"type":"quantitative","scale":{"domain":[0,222],"range":[0,222],"nice":false,"zero":false},"axis":null},"y2":{"datum":177}}},
     {"mark":{"type":"point","filled":true,"color":"#e4e4e4","opacity":1,"size":441,"strokeWidth":0},"encoding":{"x":{"datum":9,"type":"quantitative","scale":{"domain":[0,191],"range":[0,191],"nice":false,"zero":false},"axis":null},"y":{"datum":12,"type":"quantitative","scale":{"domain":[0,222],"range":[0,222],"nice":false,"zero":false},"axis":null}}},
     {"mark":{"type":"text","fontSize":16,"fontWeight":"bold","align":"center","baseline":"middle","color":"#000000"},"encoding":{"x":{"datum":8,"type":"quantitative","scale":{"domain":[0,191],"range":[0,191],"nice":false,"zero":false},"axis":null},"y":{"datum":11,"type":"quantitative","scale":{"domain":[0,222],"range":[0,222],"nice":false,"zero":false},"axis":null},"text":{"field":"p","type":"nominal"}}},
     {"mark":{"type":"text","fontSize":12,"align":"center","baseline":"top","lineBreak":"\n","lineHeight":14,"color":"#000000"},"encoding":{"x":{"datum":100,"type":"quantitative","scale":{"domain":[0,191],"range":[0,191],"nice":false,"zero":false},"axis":null},"y":{"datum":7,"type":"quantitative","scale":{"domain":[0,222],"range":[0,222],"nice":false,"zero":false},"axis":null},"text":{"field":"q","type":"nominal"}}},
     {"mark":{"type":"text","text":"Favourite Sport","fontSize":10,"align":"center","baseline":"middle","color":"#222222"},"encoding":{"x":{"datum":90,"type":"quantitative","scale":{"domain":[0,191],"range":[0,191],"nice":false,"zero":false},"axis":null},"y":{"datum":58,"type":"quantitative","scale":{"domain":[0,222],"range":[0,222],"nice":false,"zero":false},"axis":null}}}
    ]},
    {"data":{"name":"bars"},"transform":[{"filter":"datum.p == 6"}],"mark":{"type":"bar","fill":"#e0ffff","stroke":"#9aabab","strokeWidth":1},
     "encoding":{"x":{"field":"sport","type":"nominal","sort":null,"scale":{"range":[44,170],"paddingInner":0.5,"paddingOuter":0.25},"axis":{"orient":"bottom","offset":-45,"title":null,"labelAngle":-45,"labelAlign":"right","labelBaseline":"top","labelFontSize":9.5,"labelColor":"#222222","labelPadding":1,"ticks":false,"domain":false,"grid":false,"labelOverlap":false}},
      "y":{"field":"children","type":"quantitative","scale":{"domain":[0,10],"range":[177,63],"nice":false},"axis":{"orient":"left","offset":-44,"values":[1,2,3,4,5,6,7,8,9],"title":"Children","titleFontSize":10,"titleFontWeight":"normal","titleColor":"#333333","titlePadding":9,"labelFontSize":8,"labelColor":"#555555","labelPadding":3,"ticks":false,"domain":false,"grid":true,"gridColor":"#c4c4c4","gridDash":[1.5,2],"gridWidth":1}}}}
   ]},
   {"data":{"name":"answers"},"transform":[{"filter":"datum.p == 6"}],"columns":3,"spacing":0,"bounds":"flush",
    "facet":{"field":"slot","type":"nominal","header":{"title":null,"labelExpr":"''","labelFontSize":0,"labelPadding":-40}},
    "spec":{"width":63,"height":111,"layer":[
     {"transform":[{"filter":"datum.letter != ''"}],"mark":{"type":"point","shape":"M0,-1 A0.68,1 0 1,1 0,1 A0.68,1 0 1,1 0,-1 Z","filled":true,"color":"#e6e6e2","opacity":1,"size":484,"strokeWidth":0},"encoding":{"x":{"datum":9,"type":"quantitative","scale":{"domain":[0,63],"range":[0,63],"nice":false,"zero":false},"axis":null},"y":{"datum":16,"type":"quantitative","scale":{"domain":[0,111],"range":[0,111],"nice":false,"zero":false},"axis":null}}},
     {"mark":{"type":"text","fontSize":17,"fontWeight":"bold","align":"center","baseline":"middle","color":"#000000"},"encoding":{"x":{"datum":9,"type":"quantitative","scale":{"domain":[0,63],"range":[0,63],"nice":false,"zero":false},"axis":null},"y":{"datum":16,"type":"quantitative","scale":{"domain":[0,111],"range":[0,111],"nice":false,"zero":false},"axis":null},"text":{"field":"letter","type":"nominal"}}},
     {"mark":{"type":"text","fontSize":17,"align":"center","baseline":"middle","color":"#000000"},"encoding":{"x":{"datum":40,"type":"quantitative","scale":{"domain":[0,63],"range":[0,63],"nice":false,"zero":false},"axis":null},"y":{"datum":57,"type":"quantitative","scale":{"domain":[0,111],"range":[0,111],"nice":false,"zero":false},"axis":null},"text":{"field":"ans","type":"nominal"}}}
    ]}}
 ],"spacing":0,"bounds":"flush"},
 {"hconcat":[
   {"width":191,"height":222,"resolve":{"scale":{"x":"independent","y":"independent"}},"layer":[
    {"data":{"name":"questions"},"transform":[{"filter":"datum.p == 7"}],"layer":[
     {"mark":{"type":"rect","filled":false,"stroke":"#bbbbbb","strokeWidth":1.5},"encoding":{"x":{"datum":44,"type":"quantitative","scale":{"domain":[0,191],"range":[0,191],"nice":false,"zero":false},"axis":null},"x2":{"datum":170},"y":{"datum":63,"type":"quantitative","scale":{"domain":[0,222],"range":[0,222],"nice":false,"zero":false},"axis":null},"y2":{"datum":177}}},
     {"mark":{"type":"point","filled":true,"color":"#e4e4e4","opacity":1,"size":441,"strokeWidth":0},"encoding":{"x":{"datum":9,"type":"quantitative","scale":{"domain":[0,191],"range":[0,191],"nice":false,"zero":false},"axis":null},"y":{"datum":12,"type":"quantitative","scale":{"domain":[0,222],"range":[0,222],"nice":false,"zero":false},"axis":null}}},
     {"mark":{"type":"text","fontSize":16,"fontWeight":"bold","align":"center","baseline":"middle","color":"#000000"},"encoding":{"x":{"datum":8,"type":"quantitative","scale":{"domain":[0,191],"range":[0,191],"nice":false,"zero":false},"axis":null},"y":{"datum":11,"type":"quantitative","scale":{"domain":[0,222],"range":[0,222],"nice":false,"zero":false},"axis":null},"text":{"field":"p","type":"nominal"}}},
     {"mark":{"type":"text","fontSize":12,"align":"center","baseline":"top","lineBreak":"\n","lineHeight":14,"color":"#000000"},"encoding":{"x":{"datum":100,"type":"quantitative","scale":{"domain":[0,191],"range":[0,191],"nice":false,"zero":false},"axis":null},"y":{"datum":7,"type":"quantitative","scale":{"domain":[0,222],"range":[0,222],"nice":false,"zero":false},"axis":null},"text":{"field":"q","type":"nominal"}}},
     {"mark":{"type":"text","text":"Favourite Sport","fontSize":10,"align":"center","baseline":"middle","color":"#222222"},"encoding":{"x":{"datum":90,"type":"quantitative","scale":{"domain":[0,191],"range":[0,191],"nice":false,"zero":false},"axis":null},"y":{"datum":58,"type":"quantitative","scale":{"domain":[0,222],"range":[0,222],"nice":false,"zero":false},"axis":null}}}
    ]},
    {"data":{"name":"bars"},"transform":[{"filter":"datum.p == 7"}],"mark":{"type":"bar","fill":"#e0ffff","stroke":"#9aabab","strokeWidth":1},
     "encoding":{"x":{"field":"sport","type":"nominal","sort":null,"scale":{"range":[44,170],"paddingInner":0.5,"paddingOuter":0.25},"axis":{"orient":"bottom","offset":-45,"title":null,"labelAngle":-45,"labelAlign":"right","labelBaseline":"top","labelFontSize":9.5,"labelColor":"#222222","labelPadding":1,"ticks":false,"domain":false,"grid":false,"labelOverlap":false}},
      "y":{"field":"children","type":"quantitative","scale":{"domain":[0,10],"range":[177,63],"nice":false},"axis":{"orient":"left","offset":-44,"values":[1,2,3,4,5,6,7,8,9],"title":"Children","titleFontSize":10,"titleFontWeight":"normal","titleColor":"#333333","titlePadding":9,"labelFontSize":8,"labelColor":"#555555","labelPadding":3,"ticks":false,"domain":false,"grid":true,"gridColor":"#c4c4c4","gridDash":[1.5,2],"gridWidth":1}}}}
   ]},
   {"data":{"name":"answers"},"transform":[{"filter":"datum.p == 7"}],"columns":3,"spacing":0,"bounds":"flush",
    "facet":{"field":"slot","type":"nominal","header":{"title":null,"labelExpr":"''","labelFontSize":0,"labelPadding":-40}},
    "spec":{"width":63,"height":111,"layer":[
     {"transform":[{"filter":"datum.letter != ''"}],"mark":{"type":"point","shape":"M0,-1 A0.68,1 0 1,1 0,1 A0.68,1 0 1,1 0,-1 Z","filled":true,"color":"#e6e6e2","opacity":1,"size":484,"strokeWidth":0},"encoding":{"x":{"datum":9,"type":"quantitative","scale":{"domain":[0,63],"range":[0,63],"nice":false,"zero":false},"axis":null},"y":{"datum":16,"type":"quantitative","scale":{"domain":[0,111],"range":[0,111],"nice":false,"zero":false},"axis":null}}},
     {"mark":{"type":"text","fontSize":17,"fontWeight":"bold","align":"center","baseline":"middle","color":"#000000"},"encoding":{"x":{"datum":9,"type":"quantitative","scale":{"domain":[0,63],"range":[0,63],"nice":false,"zero":false},"axis":null},"y":{"datum":16,"type":"quantitative","scale":{"domain":[0,111],"range":[0,111],"nice":false,"zero":false},"axis":null},"text":{"field":"letter","type":"nominal"}}},
     {"mark":{"type":"text","fontSize":17,"align":"center","baseline":"middle","color":"#000000"},"encoding":{"x":{"datum":40,"type":"quantitative","scale":{"domain":[0,63],"range":[0,63],"nice":false,"zero":false},"axis":null},"y":{"datum":57,"type":"quantitative","scale":{"domain":[0,111],"range":[0,111],"nice":false,"zero":false},"axis":null},"text":{"field":"ans","type":"nominal"}}}
    ]}}
 ],"spacing":0,"bounds":"flush"}
],"spacing":15.5,"bounds":"full"},
{"width":815,"height":51.5,"view":{"stroke":null},"data":{"values":[{}]},
 "layer":[
  {"mark":{"type":"text","text":"©","fontSize":13,"align":"left","baseline":"middle","color":"#000000"},
   "encoding":{"x":{"datum":6,"type":"quantitative","scale":{"domain":[0,815],"range":[0,815],"nice":false,"zero":false},"axis":null},"y":{"datum":33,"type":"quantitative","scale":{"domain":[0,50],"range":[0,50],"nice":false,"zero":false},"axis":null}}},
  {"mark":{"type":"text","text":"Mobius Academy","fontSize":13,"align":"left","baseline":"middle","color":"#0000ee"},
   "encoding":{"x":{"datum":16,"type":"quantitative","scale":{"domain":[0,815],"range":[0,815],"nice":false,"zero":false},"axis":null},"y":{"datum":33,"type":"quantitative","scale":{"domain":[0,50],"range":[0,50],"nice":false,"zero":false},"axis":null}}},
  {"mark":{"type":"rule","color":"#0000ee","strokeWidth":1},
   "encoding":{"x":{"datum":16,"type":"quantitative","scale":{"domain":[0,815],"range":[0,815],"nice":false,"zero":false},"axis":null},"x2":{"datum":115},"y":{"datum":40,"type":"quantitative","scale":{"domain":[0,50],"range":[0,50],"nice":false,"zero":false},"axis":null}}},
  {"mark":{"type":"text","text":"Math learning portal. Enrichment classes. Tutoring. Math games to engage kids. (mobius.academy)","fontSize":13,"align":"left","baseline":"middle","color":"#000000"},
   "encoding":{"x":{"datum":185,"type":"quantitative","scale":{"domain":[0,815],"range":[0,815],"nice":false,"zero":false},"axis":null},"y":{"datum":33,"type":"quantitative","scale":{"domain":[0,50],"range":[0,50],"nice":false,"zero":false},"axis":null}}}
 ]}
]
}
